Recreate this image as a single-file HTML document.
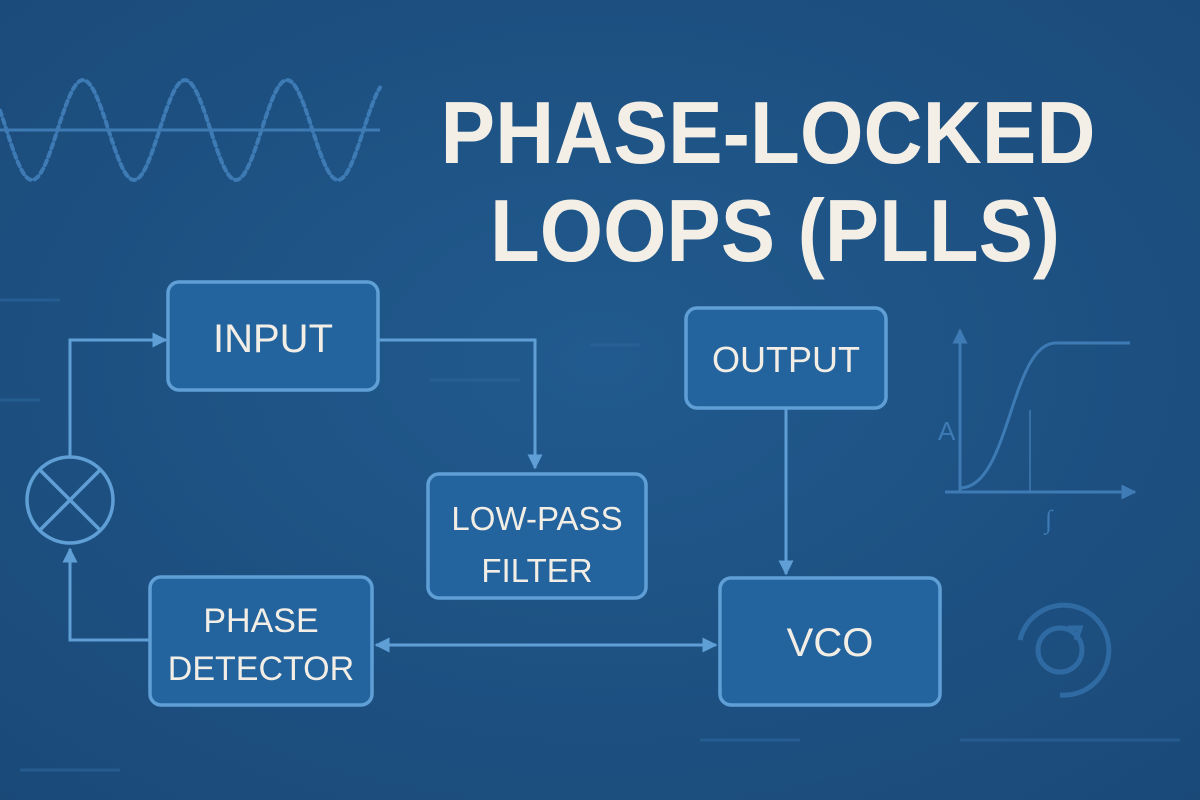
<!DOCTYPE html>
<html><head><meta charset="utf-8"><style>
html,body{margin:0;padding:0;}
body{width:1200px;height:800px;background:#1c4e7f;overflow:hidden;font-family:"Liberation Sans","DejaVu Sans",sans-serif;}
svg{display:block}
</style></head><body>
<svg id="s" width="1200" height="800" viewBox="0 0 1200 800" xmlns="http://www.w3.org/2000/svg">
<defs>
<radialGradient id="bg" cx="50%" cy="45%" r="75%"><stop offset="0" stop-color="#215a8e"/><stop offset="1" stop-color="#1a4978"/></radialGradient>
<marker id="a" viewBox="0 0 10 10" refX="9" refY="5" markerWidth="5" markerHeight="5" orient="auto-start-reverse"><path d="M0,0L10,5L0,10z" fill="#5f9fd6"/></marker>
<marker id="b" viewBox="0 0 10 10" refX="9" refY="5" markerWidth="5" markerHeight="5" orient="auto"><path d="M0,0L10,5L0,10z" fill="#3f7bb4"/></marker>
</defs>
<rect width="1200" height="800" fill="url(#bg)"/>
<!-- faint background dashes -->
<g stroke="#2b6399" stroke-width="3" opacity="0.7">
<line x1="0" y1="300" x2="60" y2="300"/><line x1="0" y1="400" x2="40" y2="400"/><line x1="590" y1="345" x2="640" y2="345"/><line x1="430" y1="380" x2="520" y2="380"/><line x1="20" y1="770" x2="120" y2="770"/><line x1="960" y1="740" x2="1180" y2="740"/><line x1="700" y1="740" x2="800" y2="740"/>
</g>
<!-- wave -->
<line x1="0" y1="130" x2="380" y2="130" stroke="#3e7ab3" stroke-width="3"/>
<path id="wave" fill="none" stroke="#3e7ab3" stroke-width="4" stroke-dasharray="5 4" stroke-linecap="round"/>
<!-- title -->
<g font-family="Liberation Sans, sans-serif" font-weight="bold" fill="#f4efe6" text-anchor="middle">
<text x="768" y="163" font-size="88" textLength="655" lengthAdjust="spacingAndGlyphs">PHASE-LOCKED</text>
<text x="775" y="261" font-size="88" textLength="570" lengthAdjust="spacingAndGlyphs">LOOPS (PLLS)</text>
</g>
<!-- right graph -->
<g stroke="#3e7ab3" stroke-width="3" fill="none">
<line x1="960" y1="492" x2="960" y2="330" marker-end="url(#b)"/>
<line x1="945" y1="492" x2="1135" y2="492" marker-end="url(#b)"/>
<path d="M960,488 C1010,488 1010,345 1055,343 L1130,343"/>
<line x1="1030" y1="492" x2="1030" y2="410" stroke-width="1.5"/>
</g>
<text x="938" y="440" font-size="26" fill="#3e7ab3" font-family="Liberation Sans">A</text>
<text x="1045" y="528" font-size="26" fill="#3e7ab3" font-style="italic" font-family="Liberation Serif">∫</text>
<!-- circular icon -->
<g stroke="#2f6aa3" stroke-width="5" fill="none">
<path d="M1020,640 A45,45 0 1 1 1060,695"/>
<circle cx="1060" cy="650" r="22"/>
<path d="M1068,628 l12,0 l-4,12"/>
</g>
<!-- connectors -->
<g stroke="#5f9fd6" stroke-width="3" fill="none">
<polyline points="70,457 70,340 166,340" marker-end="url(#a)"/>
<polyline points="378,340 535,340 535,468" marker-end="url(#a)"/>
<line x1="786" y1="408" x2="786" y2="574" marker-end="url(#a)"/>
<line x1="376" y1="645" x2="716" y2="645" marker-start="url(#a)" marker-end="url(#a)"/>
<polyline points="150,640 70,640 70,549" marker-end="url(#a)"/>
</g>
<!-- boxes -->
<g fill="#23649e" stroke="#5f9fd6" stroke-width="3.5">
<rect x="168" y="282" width="210" height="108" rx="11"/>
<rect x="686" y="308" width="200" height="100" rx="11"/>
<rect x="428" y="474" width="218" height="124" rx="11"/>
<rect x="150" y="577" width="222" height="128" rx="11"/>
<rect x="720" y="578" width="220" height="127" rx="11"/>
</g>
<g stroke="#5f9fd6" stroke-width="3.5" fill="none">
<circle cx="70" cy="500" r="43"/>
<line x1="40" y1="470" x2="100" y2="530"/><line x1="100" y1="470" x2="40" y2="530"/>
</g>
<g fill="#f2eee6" font-family="Liberation Sans, sans-serif" text-anchor="middle">
<text x="273" y="352" font-size="40">INPUT</text>
<text x="786" y="372" font-size="36">OUTPUT</text>
<text x="537" y="530" font-size="33">LOW-PASS</text>
<text x="537" y="582" font-size="33">FILTER</text>
<text x="261" y="632" font-size="34">PHASE</text>
<text x="261" y="680" font-size="34">DETECTOR</text>
<text x="830" y="656" font-size="40">VCO</text>
</g>
</svg>
<script>
var d="";for(var x=0;x<=380;x+=2){var y=130-50*Math.sin((x-83)/102*2*Math.PI+Math.PI/2);d+=(x?"L":"M")+x+","+y.toFixed(1);}
document.getElementById("wave").setAttribute("d",d);
</script>
</body></html>
